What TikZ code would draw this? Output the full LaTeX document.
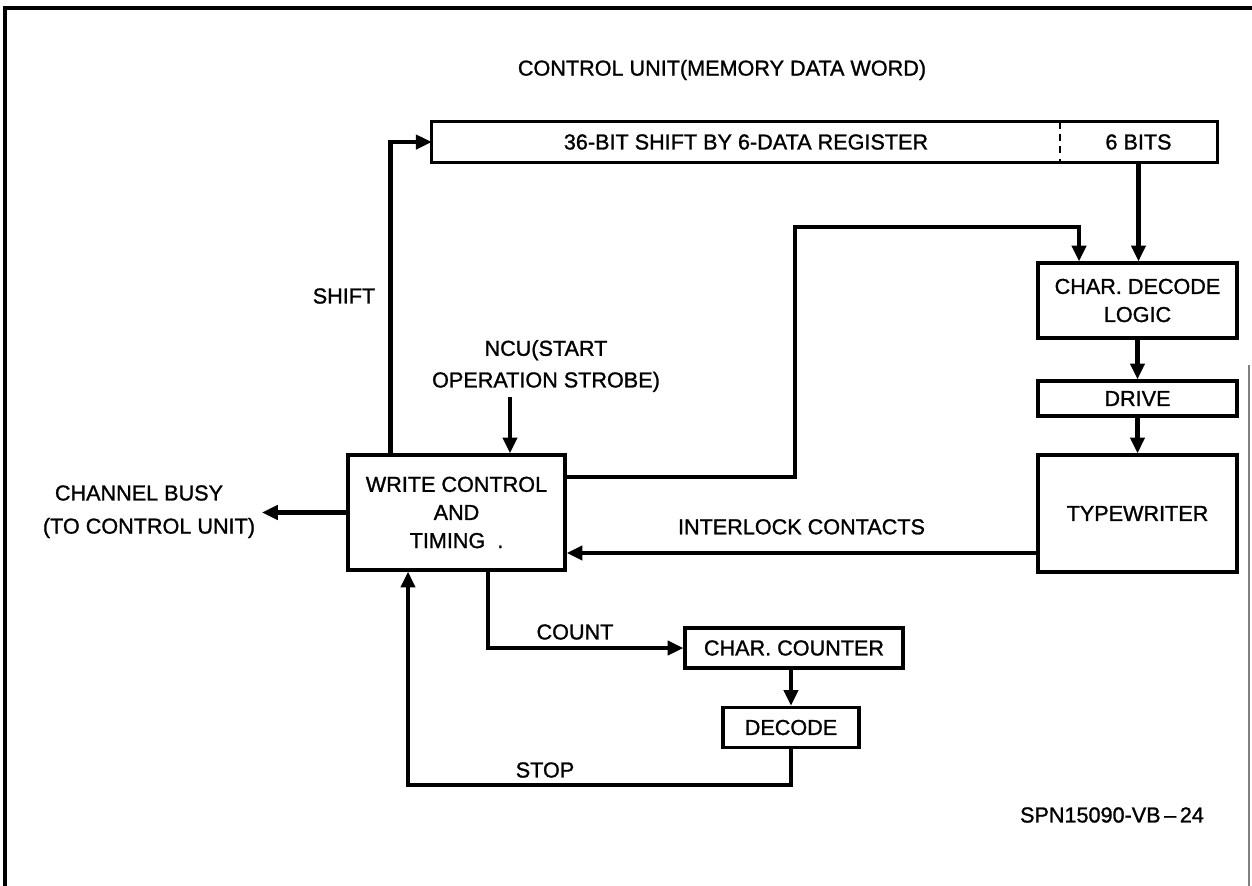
\documentclass[tikz,border=0pt]{standalone}
\usepackage{fontspec}
\setmainfont{Liberation Sans}[FakeBold=1.2]
\usetikzlibrary{arrows.meta, positioning}

\begin{document}
\begin{tikzpicture}[x=0.02cm, y=-0.02cm,
  font=\fontsize{12.3pt}{16pt}\selectfont,
  box/.style={draw, line width=1.8pt, inner sep=0pt, align=center},
  regpart/.style={inner sep=0pt, minimum height=0.8cm},
  flow/.style={line width=2.4pt, -{Triangle[length=9pt, width=8pt]}},
  lbl/.style={inner sep=0pt, align=center}]
  \useasboundingbox (0,0) rectangle (1252,886);
  \draw[line width=2pt] (1252,8) -- (5,8) -- (5,886);
  \draw[line width=0.6pt, gray] (1249,365) -- (1249,886);

  \node[lbl] (title) at (722,70) {CONTROL UNIT(MEMORY DATA WORD)};
  \node[regpart, minimum width=12.56cm] (reg) at (746,142) {36-BIT SHIFT BY 6-DATA REGISTER};
  \node[regpart, minimum width=3.14cm] (bits) at (1138.5,142) {6 BITS};
  \draw[line width=1.8pt] (reg.north west) rectangle (bits.south east);
  \draw[line width=1pt, dash pattern=on 4pt off 3pt] (reg.north east) -- (reg.south east);

  \node[box, minimum width=3.98cm, minimum height=1.5cm] (cdl) at (1137.5,300.5) {CHAR. DECODE\\LOGIC};
  \node[box, minimum width=3.98cm, minimum height=0.7cm] (drive) at (1137.5,398.5) {DRIVE};
  \node[box, minimum width=3.98cm, minimum height=2.34cm] (tw) at (1137.5,513.5) {TYPEWRITER};
  \node[box, minimum width=4.34cm, minimum height=2.3cm] (wct) at (456.5,512.5) {WRITE CONTROL\\AND\\TIMING\ \ .};
  \node[box, minimum width=4.36cm, minimum height=0.8cm] (cc) at (794,648) {CHAR. COUNTER};
  \node[box, minimum width=2.72cm, minimum height=0.8cm] (dec) at (791,727.5) {DECODE};

  \node[lbl] (shiftlbl) at (344,296) {SHIFT};
  \node[lbl] (ncu) at (546,366) {NCU(START\\[2pt]OPERATION STROBE)};
  \node[lbl] (busy1) at (139,493) {CHANNEL BUSY};
  \node[lbl] (busy2) at (149,528) {(TO CONTROL UNIT)};
  \node[lbl] (countlbl) at (575,632) {COUNT};
  \node[lbl] (stoplbl) at (545,770) {STOP};
  \node[lbl] (ref) at (1112,815) {SPN15090-VB\,--\,24};

  \coordinate (ncuin) at (510,397);
  \coordinate (busy) at (262,512.5);
  \coordinate (ilk) at ([yshift=-0.79cm]tw.west);

  \draw[flow] ([xshift=0.88cm]wct.north west) |- (reg.west);
  \draw[flow] (ncuin) -- (ncuin |- wct.north);
  \draw[flow] ([yshift=0.71cm]wct.east) -| (795,227) -| ([xshift=-1.17cm]cdl.north);
  \draw[flow] (bits.south) -- (bits.south |- cdl.north);
  \draw[flow] (cdl) -- (drive);
  \draw[flow] (drive) -- (tw);
  \draw[flow] (ilk) -- (ilk -| wct.east)
    node[midway, above=6pt] (ilklbl) {INTERLOCK CONTACTS};
  \draw[flow] (wct.west) -- (busy);
  \draw[flow] ([xshift=0.63cm]wct.south) |- (cc.west);
  \draw[flow] (dec.north |- cc.south) -- (dec.north);
  \draw[flow] (dec.south) -- ++(0,36) -| ([xshift=-0.97cm]wct.south);
\end{tikzpicture}
\end{document}
